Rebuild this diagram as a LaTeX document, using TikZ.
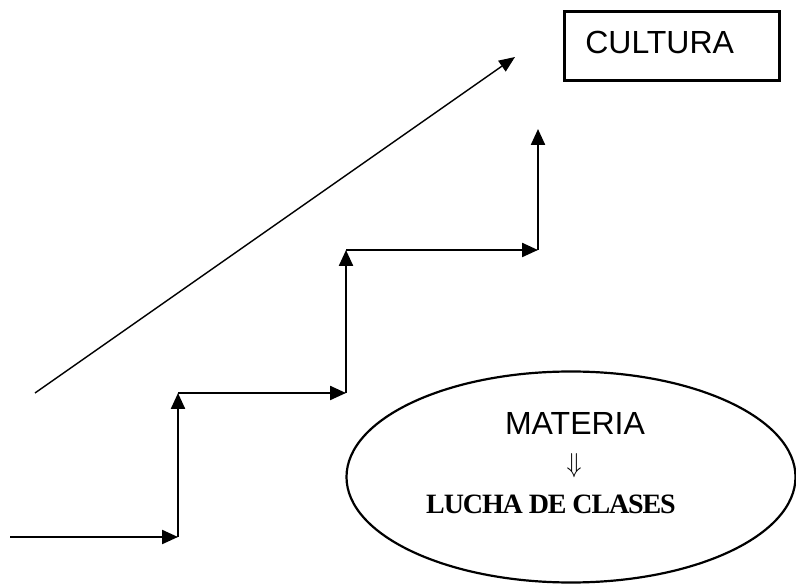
\documentclass[tikz,border=0pt]{standalone}
\usepackage{fontspec}
\usepackage{graphicx}
\setmainfont{Liberation Sans}
\newfontfamily\clasesfont[LetterSpace=-4.0]{Liberation Serif}
\usetikzlibrary{arrows.meta, positioning, shapes.geometric}

\tikzset{
    escalon/.style={line width=2.3pt, -{Triangle[length=16pt,width=14pt]}},
    diagonal/.style={line width=1.4pt, -{Triangle[length=16pt,width=13pt]}},
    cajabox/.style={draw, line width=2.6pt, anchor=north west, font=\fontsize{32}{32}\selectfont,
        inner xsep=21pt, inner ysep=11pt, text width=173pt, align=left, text height=31pt, text depth=16pt},
    elipse/.style={draw, ellipse, line width=2.2pt, minimum width=449pt, minimum height=211pt, inner sep=0pt}
}

\begin{document}
\begin{tikzpicture}[x=1pt, y=-1pt]
                \useasboundingbox (0,0) rectangle (796,585);
                \coordinate (s0) at (10,537);
                \coordinate (s1) at (178,537);
                \coordinate (s2) at (178,393);
                \coordinate (s3) at (346,393);
                \coordinate (s4) at (346,250);
                \coordinate (s5) at (538,250);
                \coordinate (s6) at (538,129);
                \draw[escalon] (s0) -- (s1);
                \draw[escalon] (s1) -- (s2);
                \draw[escalon] (s2) -- (s3);
                \draw[escalon] (s3) -- (s4);
                \draw[escalon] (s4) -- (s5);
                \draw[escalon] (s5) -- (s6);
                \coordinate (d0) at (35,393);
                \coordinate (d1) at (515,57);
                \draw[diagonal] (d0) -- (d1);
                \node[cajabox] (cultura) at (563,10) {CULTURA};
                \node[elipse] (ovalo) at (571,477) {};
                \node[font=\fontsize{32}{32}\selectfont, anchor=base] (materia) at (575,435) {MATERIA};
                \node[inner sep=0pt] (flecha) at (574,466) {\resizebox{15pt}{19pt}{$\Downarrow$}};
                \node[font=\fontsize{28}{28}\selectfont\clasesfont\bfseries, anchor=base] (lucha) at (551,513) {LUCHA DE CLASES};
            \end{tikzpicture}
\end{document}
